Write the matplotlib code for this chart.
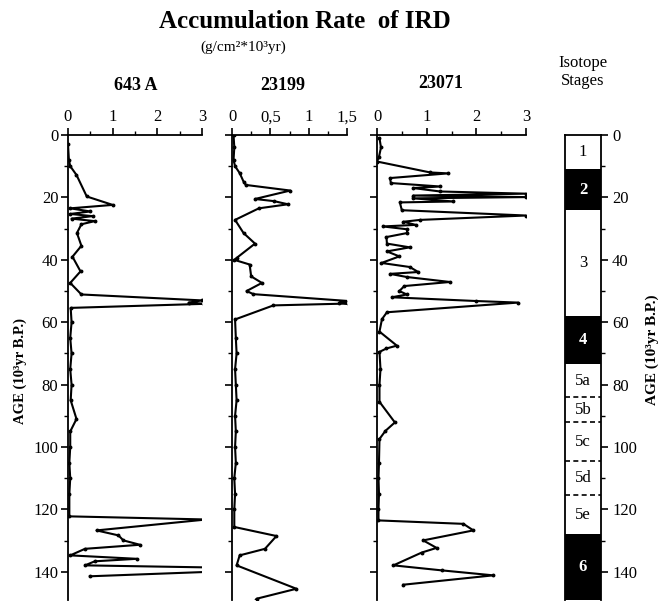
import numpy as np
import matplotlib.pyplot as plt
from matplotlib.ticker import MultipleLocator, FixedLocator

plt.rcParams['font.family'] = ['Liberation Serif', 'DejaVu Serif']

# 643 A
age_643 = [3, 8, 10, 12.8, 19.7, 22.4, 23.5, 24.5, 25.3, 26.0, 26.8, 27.6, 28.6, 31.4, 35.5,
           39.0, 43.7, 47.4, 51.1, 53.0, 53.7, 54.1, 55.4, 60, 65, 70, 75, 80, 85, 91,
           95, 100, 105, 110, 115, 122.2, 123.2, 126.7, 128.3, 129.9, 131.3, 132.6, 134.7, 135.8, 136.6,
           137.9, 138.6, 139.9, 141.4]
ird_643 = [0.0, 0.02, 0.05, 0.19, 0.42, 1.0, 0.05, 0.5, 0.05, 0.55, 0.08, 0.6, 0.3, 0.2, 0.3,
           0.1, 0.28, 0.05, 0.3, 3.0, 2.7, 3.05, 0.06, 0.08, 0.05, 0.08, 0.05, 0.08, 0.06, 0.19,
           0.05, 0.05, 0.03, 0.05, 0.03, 0.03, 3.1, 0.64, 1.13, 1.24, 1.61, 0.38, 0.05, 1.54, 0.6,
           0.38, 3.3, 3.3, 0.49]

# 23199
age_23199 = [0, 4, 8, 10, 12.2, 14.9, 16.0, 17.8, 20.5, 21.2, 22.2, 23.5, 27.2, 31.4, 34.8,
             39.4, 40.0, 41.5, 45.3, 47.4, 50.0, 51.0, 53.2, 53.7, 54.0, 54.6, 59.1, 65, 70, 75,
             80, 85, 90, 95, 100, 105, 110, 115, 120, 125.6, 128.5, 132.6, 134.7, 137.9, 145.4,
             148.6, 151]
ird_23199 = [0.02, 0.03, 0.02, 0.04, 0.1, 0.15, 0.18, 0.76, 0.3, 0.55, 0.73, 0.35, 0.04, 0.15, 0.30,
             0.06, 0.03, 0.23, 0.25, 0.39, 0.19, 0.28, 1.52, 1.4, 1.52, 0.54, 0.04, 0.05, 0.06, 0.04,
             0.05, 0.06, 0.04, 0.05, 0.04, 0.05, 0.03, 0.04, 0.03, 0.03, 0.58, 0.43, 0.1, 0.06, 0.84,
             0.32, 0.25]

# 23071
age_23071 = [1, 4, 7, 8.5, 12.0, 12.3, 13.8, 15.4, 16.5, 17.0, 18.1, 18.8, 19.4, 19.9, 20.3,
             21.3, 21.6, 24.1, 25.8, 27.2, 27.8, 28.8, 29.3, 30.2, 31.4, 32.7, 34.8, 36.0, 37.3, 38.9,
             41.0, 42.3, 43.9, 44.5, 45.5, 47.1, 48.4, 50.0, 51.1, 52.0, 53.2, 53.7, 56.8, 59.0, 63.0,
             67.5, 68.4, 69.5, 75, 80, 85.5, 92.1, 94.8, 97.4, 105, 110, 115, 120, 123.5, 124.6,
             126.7, 129.9, 132.3, 133.8, 137.9, 139.5, 141.1, 144.1]
ird_23071 = [0.05, 0.08, 0.04, 0.0, 1.07, 1.43, 0.26, 0.28, 1.27, 0.73, 1.27, 3.0, 0.73, 3.0, 0.73,
             1.54, 0.46, 0.5, 3.0, 0.87, 0.53, 0.78, 0.12, 0.6, 0.61, 0.19, 0.2, 0.66, 0.2, 0.45,
             0.09, 0.66, 0.83, 0.26, 0.6, 1.47, 0.55, 0.45, 0.6, 0.3, 2.0, 2.84, 0.2, 0.1, 0.05,
             0.4, 0.19, 0.05, 0.07, 0.05, 0.05, 0.36, 0.17, 0.05, 0.04, 0.03, 0.04, 0.03, 0.03, 1.74,
             1.94, 0.93, 1.2, 0.9, 0.33, 1.3, 2.34, 0.53]

# isotope stages
stage_bounds = [0, 11, 24, 58, 73.5, 84, 92, 104.5, 115.5, 128, 149]
stage_names = ['1', '2', '3', '4', '5a', '5b', '5c', '5d', '5e', '6']
stage_dark = [False, True, False, True, False, False, False, False, False, True]

W, H = 662, 602
fig = plt.figure(figsize=(W / 100, H / 100), dpi=100)
AGE_MAX = 149


def add_ax(x0, x1, y0=135, y1=600):
    return fig.add_axes([x0 / W, 1 - y1 / H, (x1 - x0) / W, (y1 - y0) / H])


def ird_panel(x0, x1, age, ird, xmax, step, labels, title, title_x, title_y, show_y):
    ax = add_ax(x0, x1)
    ax.plot(ird, age, '-', color='k', lw=1.5, marker='o', ms=1.8)
    ax.set_xlim(0, xmax)
    ax.set_ylim(AGE_MAX, 0)
    ax.spines['right'].set_visible(False)
    ax.spines['bottom'].set_visible(False)
    for s in ('left', 'top'):
        ax.spines[s].set_linewidth(1.3)
    ax.xaxis.tick_top()
    ax.xaxis.set_major_locator(FixedLocator(np.arange(0, xmax + 1e-9, step)))
    ax.xaxis.set_minor_locator(MultipleLocator(step / 2))
    ax.set_xticklabels(labels)
    ax.yaxis.set_major_locator(MultipleLocator(20))
    ax.yaxis.set_minor_locator(MultipleLocator(10))
    ax.tick_params(which='major', length=5, width=1.2, labelsize=12, pad=2)
    ax.tick_params(which='minor', length=3, width=1.0)
    ax.tick_params(axis='y', labelleft=show_y)
    fig.text(title_x / W, 1 - title_y / H, title, ha='center', va='center',
             fontsize=13, fontweight='bold')
    return ax


ird_panel(68, 202, age_643, ird_643, 3, 1, ['0', '1', '2', '3'], '643 A', 136, 86, True)
ird_panel(232, 347, age_23199, ird_23199, 1.5, 0.5, ['0', '0,5', '1', '1,5'], '23199', 283, 86, False)
ird_panel(377, 526, age_23071, ird_23071, 3, 1, ['0', '1', '2', '3'], '23071', 441, 83, False)

# isotope stage column
axs = add_ax(565, 601)
axs.set_xlim(0, 1)
axs.set_ylim(AGE_MAX, 0)
for i, name in enumerate(stage_names):
    b0, b1 = stage_bounds[i], stage_bounds[i + 1]
    dark = stage_dark[i]
    axs.axhspan(b0, b1, color='k' if dark else 'white', lw=0)
    axs.text(0.5, (b0 + b1) / 2, name, ha='center', va='center', fontsize=12,
             color='white' if dark else 'k', fontweight='bold' if dark else 'normal')
for b in stage_bounds[5:9]:
    axs.axhline(b, color='k', ls=(0, (3, 2)), lw=1.2)
for s in axs.spines.values():
    s.set_linewidth(1.3)
axs.spines['bottom'].set_visible(False)
axs.set_xticks([])
axs.yaxis.tick_right()
axs.yaxis.set_major_locator(MultipleLocator(20))
axs.yaxis.set_minor_locator(MultipleLocator(10))
axs.tick_params(which='major', length=5, width=1.2, labelsize=12, pad=3)
axs.tick_params(which='minor', length=3, width=1.0)

fig.text((565 + 601) / 2 / W, 1 - 72 / H, 'Isotope\nStages', ha='center', va='center',
         fontsize=12, linespacing=1.2)

fig.text(305 / W, 1 - 22 / H, 'Accumulation Rate  of IRD', ha='center', va='center',
         fontsize=18, fontweight='bold')
fig.text(243 / W, 1 - 47 / H, '(g/cm²*10³yr)', ha='center', va='center', fontsize=11)

fig.text(20 / W, 1 - 371 / H, 'AGE (10³yr B.P.)', rotation=90, ha='center', va='center',
         fontsize=10.5, fontweight='bold')
fig.text(652 / W, 1 - 350 / H, 'AGE (10³yr B.P.)', rotation=90, ha='center', va='center',
         fontsize=11, fontweight='bold')

fig.savefig('out.png', dpi=100)
